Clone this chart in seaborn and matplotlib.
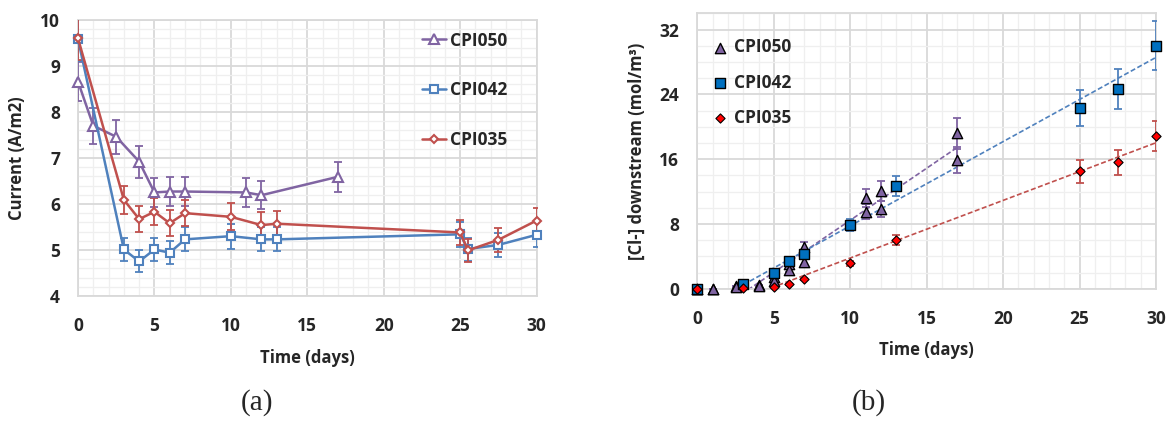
import numpy as np
import pandas as pd
import matplotlib
matplotlib.use("Agg")
import matplotlib.pyplot as plt
import seaborn as sns
from matplotlib.ticker import MultipleLocator

# (a) current vs time
days50 = [0, 1, 2.5, 4, 5, 6, 7, 11, 12, 17]
cur50 = [8.66, 7.70, 7.46, 6.92, 6.25, 6.27, 6.27, 6.25, 6.19, 6.59]
err50 = [0.43, 0.39, 0.37, 0.35, 0.31, 0.31, 0.31, 0.31, 0.31, 0.33]

days42 = [0, 3, 4, 5, 6, 7, 10, 12, 13, 25, 25.5, 27.5, 30]
cur42 = [9.58, 5.01, 4.75, 5.01, 4.94, 5.23, 5.30, 5.23, 5.23, 5.34, 5.02, 5.11, 5.33]
err42 = [0.48, 0.25, 0.24, 0.25, 0.25, 0.26, 0.27, 0.26, 0.26, 0.27, 0.25, 0.26, 0.27]

cur35 = [9.60, 6.09, 5.67, 5.83, 5.58, 5.80, 5.72, 5.54, 5.57, 5.38, 4.99, 5.22, 5.64]
err35 = [0.48, 0.30, 0.28, 0.29, 0.28, 0.29, 0.29, 0.28, 0.28, 0.27, 0.25, 0.26, 0.28]

# (b) chloride downstream vs time
cl50_a = [0, 0, 0.30, 0.45, 1.5, 3.0, 5.2, 11.2, 12.1, 19.2]
cl50_b = [0, 0, 0.25, 0.40, 1.0, 2.3, 3.3, 9.5, 9.9, 15.9]
cl50_a_err = [0, 0, 0.03, 0.05, 0.15, 0.30, 0.52, 1.12, 1.21, 1.92]
cl50_b_err = [0, 0, 0.03, 0.04, 0.10, 0.23, 0.33, 0.95, 0.99, 1.59]

days_cl = [0, 3, 5, 6, 7, 10, 13, 25, 27.5, 30]
cl42 = [0, 0.58, 1.98, 3.46, 4.28, 7.86, 12.7, 22.3, 24.7, 30.0]
cl42_err = [0, 0.06, 0.20, 0.35, 0.43, 0.79, 1.27, 2.23, 2.47, 3.0]
cl35 = [0, 0.05, 0.25, 0.58, 1.15, 3.13, 6.0, 14.5, 15.6, 18.85]
cl35_err = [0, 0.01, 0.03, 0.06, 0.12, 0.31, 0.60, 1.45, 1.56, 1.89]

labels = ["CPI050", "CPI042", "CPI035"]

purple = "#8064A2"
blue = "#4F81BD"
red = "#C0504D"

sns.set_style("white")
plt.rcParams["font.family"] = ["Open Sans", "DejaVu Sans"]
plt.rcParams["font.weight"] = "bold"

fig = plt.figure(figsize=(11.73, 4.24), dpi=100)
ax1 = fig.add_axes([0.0665, 0.302, 0.391, 0.651])
ax2 = fig.add_axes([0.5945, 0.319, 0.391, 0.6495])

# ---- (a)
series_a = [
    (days50, cur50, err50, purple, "^", 6.5),
    (days42, cur42, err42, blue, "s", 5.5),
    (days42, cur35, err35, red, "D", 4.3),
]
for (x, y, e, c, m, ms), lab in zip(series_a, labels):
    ax1.errorbar(x, y, yerr=e, fmt="none", ecolor=c, elinewidth=1.3,
                 capsize=3, capthick=1.3, zorder=3)
    sns.lineplot(x=x, y=y, ax=ax1, color=c, lw=1.8, marker=m, ms=ms,
                 markerfacecolor="white", markeredgecolor=c,
                 markeredgewidth=1.5, label=lab, zorder=4, clip_on=False)

ax1.set_ylim(4, 10)
ax1.yaxis.set_major_locator(MultipleLocator(1))
ax1.yaxis.set_minor_locator(MultipleLocator(0.2))
ax1.set_ylabel("Current (A/m2)", fontsize=12, fontweight="bold", labelpad=10)
ax1.legend(loc="upper left", bbox_to_anchor=(0.749, 0.958), frameon=False,
           prop={"weight": "bold", "size": 12.5}, labelspacing=1.83,
           handlelength=1.4, handletextpad=0.25, borderpad=0, borderaxespad=0)

# ---- (b)
fit50 = pd.DataFrame({"d": days50 * 2, "c": cl50_a + cl50_b})
fit50 = fit50[fit50["d"] >= 2.5]
fit42 = pd.DataFrame({"d": days_cl, "c": cl42})
fit42 = fit42[fit42["d"] >= 3]
fit35 = pd.DataFrame({"d": days_cl, "c": cl35})
fit35 = fit35[fit35["d"] >= 3]
for df, c in [(fit50, purple), (fit42, blue), (fit35, red)]:
    sns.regplot(data=df, x="d", y="c", ax=ax2, scatter=False, ci=None,
                truncate=True, line_kws={"color": c, "lw": 1.2, "ls": (0, (3, 1.5))})

ax2.errorbar(days50, cl50_a, yerr=cl50_a_err, fmt="none", ecolor=purple,
             elinewidth=1.3, capsize=3, capthick=1.3, zorder=3)
ax2.errorbar(days50, cl50_b, yerr=cl50_b_err, fmt="none", ecolor=purple,
             elinewidth=1.3, capsize=3, capthick=1.3, zorder=3)
ax2.errorbar(days_cl, cl42, yerr=cl42_err, fmt="none", ecolor=blue,
             elinewidth=1.3, capsize=3, capthick=1.3, zorder=3)
ax2.errorbar(days_cl, cl35, yerr=cl35_err, fmt="none", ecolor=red,
             elinewidth=1.3, capsize=3, capthick=1.3, zorder=3)

sns.scatterplot(x=days50, y=cl50_a, ax=ax2, marker="^", s=55, color=purple,
                edgecolor="black", linewidth=1, label=labels[0], zorder=5, clip_on=False)
sns.scatterplot(x=days50, y=cl50_b, ax=ax2, marker="^", s=55, color=purple,
                edgecolor="black", linewidth=1, zorder=5, clip_on=False)
sns.scatterplot(x=days_cl, y=cl42, ax=ax2, marker="s", s=48, color="#0070C0",
                edgecolor="black", linewidth=1, label=labels[1], zorder=5, clip_on=False)
sns.scatterplot(x=days_cl, y=cl35, ax=ax2, marker="D", s=22, color="#FF0000",
                edgecolor="black", linewidth=0.8, label=labels[2], zorder=6, clip_on=False)

ax2.set_ylim(0, 34)
ax2.yaxis.set_major_locator(MultipleLocator(8))
ax2.yaxis.set_minor_locator(MultipleLocator(2))
ax2.set_ylabel("[Cl-] downstream (mol/m³)", fontsize=12, fontweight="bold", labelpad=10)
ax2.legend(loc="upper left", bbox_to_anchor=(0.03, 0.909), frameon=False,
           prop={"weight": "bold", "size": 12.5}, labelspacing=0.99,
           handlelength=1.0, handletextpad=0.3, borderpad=0, borderaxespad=0)

for ax in (ax1, ax2):
    ax.grid(True, which="major", color="#D9D9D9", lw=1.3, zorder=0)
    ax.grid(True, which="minor", color="#EFEFEF", lw=0.9, zorder=0)
    ax.set_axisbelow(True)
    for s in ax.spines.values():
        s.set_color("#D9D9D9")
        s.set_linewidth(1.3)
    ax.set_xlim(0, 30)
    ax.xaxis.set_major_locator(MultipleLocator(5))
    ax.xaxis.set_minor_locator(MultipleLocator(1))
    ax.tick_params(which="both", length=0, labelsize=12.5)
    ax.tick_params(axis="x", pad=15)
    ax.tick_params(axis="y", pad=13)
    ax.set_xlabel("Time (days)", fontsize=12, fontweight="bold", labelpad=10)
    for t in ax.get_xticklabels() + ax.get_yticklabels():
        t.set_fontweight("bold")

fig.text(257 / 1173, 1 - 403 / 424, "(a)", family="Liberation Serif",
         fontsize=21, fontweight="normal", ha="center", va="center")
fig.text(869 / 1173, 1 - 403 / 424, "(b)", family="Liberation Serif",
         fontsize=21, fontweight="normal", ha="center", va="center")

fig.savefig("out.png", dpi=100)
